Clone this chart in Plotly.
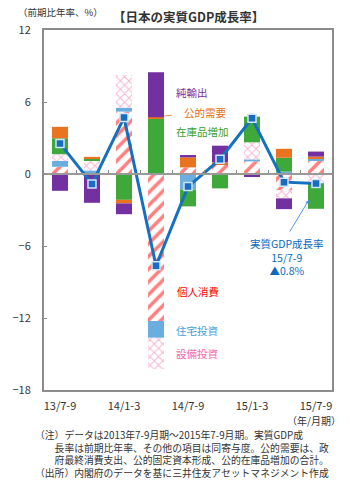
import plotly.graph_objects as go

# ---------------- data ----------------
categories = ["13/7-9", "13/10-12", "14/1-3", "14/4-6", "14/7-9",
              "14/10-12", "15/1-3", "15/4-6", "15/7-9"]
tick_labels = ["13/7-9", "", "14/1-3", "", "14/7-9", "", "15/1-3", "", "15/7-9"]

consumption = [0.60, 0.00, 5.20, -12.25, 0.55, 0.83, 1.05, -1.33, 1.08]   # 個人消費
housing     = [0.50, 0.30, 0.33, -1.40, -1.30, 0.00, 0.17, 0.20, 0.17]    # 住宅投資
capex       = [0.55, 0.78, 2.72, -2.60, 0.00, 0.00, 1.42, -0.70, -0.77]   # 設備投資
inventory   = [1.33, 0.22, -2.15, 4.60, -1.40, -1.20, 2.14, 1.15, -2.13]  # 在庫品増加
public      = [0.95, 0.13, -0.30, 0.13, 0.83, 0.14, 0.00, 0.75, 0.20]     # 公的需要
net_exports = [-1.40, -2.40, -0.90, 3.75, 0.20, 1.39, -0.25, -0.90, 0.42] # 純輸出
gdp         = [2.55, -0.83, 4.70, -7.65, -1.05, 1.22, 4.64, -0.68, -0.80] # 実質GDP成長率

y_ticks = [-18, -12, -6, 0, 6, 12]

FONT = "Noto Sans CJK JP"

# plot-area pixel frame (for placing text)
L, R, T, B = 33, 332, 30, 390
W, H = 350, 490


def P(px, py):
    return (px - L) / (R - L), (B - py) / (B - T)


fig = go.Figure()

RED = "#ff0000"
LBLUE = "#6aaee0"
PINK = "#f06aa8"
GREEN = "#3fa83a"
ORANGE = "#ea7320"
PURPLE = "#7430a0"
BLUE = "#1570c0"

fig.add_trace(go.Bar(x=categories, y=consumption, name="個人消費",
                     marker=dict(color="white", line=dict(width=0),
                                 pattern=dict(shape="/", fgcolor=RED, bgcolor="white",
                                              size=9, solidity=0.4, fillmode="overlay"))))
fig.add_trace(go.Bar(x=categories, y=housing, name="住宅投資",
                     marker=dict(color=LBLUE, line=dict(width=0))))
fig.add_trace(go.Bar(x=categories, y=capex, name="設備投資",
                     marker=dict(color="white", line=dict(width=0),
                                 pattern=dict(shape="x", fgcolor=PINK, bgcolor="white",
                                              size=6, solidity=0.3, fillmode="overlay"))))
fig.add_trace(go.Bar(x=categories, y=inventory, name="在庫品増加",
                     marker=dict(color=GREEN, line=dict(width=0))))
fig.add_trace(go.Bar(x=categories, y=public, name="公的需要",
                     marker=dict(color=ORANGE, line=dict(width=0))))
fig.add_trace(go.Bar(x=categories, y=net_exports, name="純輸出",
                     marker=dict(color=PURPLE, line=dict(width=0))))
fig.add_trace(go.Scatter(x=categories, y=gdp, name="実質GDP成長率", mode="lines+markers",
                         line=dict(color=BLUE, width=3),
                         marker=dict(symbol="square", size=8, color="#1a6cc0",
                                     line=dict(color="#d0e4f7", width=1.5))))
# dummy trace to carry the zero-line axis with boundary ticks
fig.add_trace(go.Scatter(x=categories, y=[None] * len(categories), xaxis="x2",
                         mode="lines", showlegend=False, hoverinfo="skip"))

annotations = []

# in-chart labels
labels = [
    ("純輸出", PURPLE, 168, 92),
    ("公的需要", "#e46c0a", 176, 113),
    ("在庫品増加", "#3a9e30", 168, 131),
    ("個人消費", RED, 169, 291),
    ("住宅投資", "#4a9fd5", 168, 330),
    ("設備投資", "#f06aa8", 168, 353),
]
for txt, col, px, py in labels:
    x, y = P(px, py)
    annotations.append(dict(text=txt, x=x, y=y, xref="paper", yref="paper",
                            xanchor="left", yanchor="middle", showarrow=False,
                            font=dict(family=FONT, size=10.5, color=col)))

# GDP callout (one multi-line text)
x, y = P(285, 257)
annotations.append(dict(text="実質GDP成長率<br>15/7-9<br>▲0.8%", x=x, y=y,
                        xref="paper", yref="paper", xanchor="center", yanchor="middle",
                        align="center", showarrow=False,
                        font=dict(family=FONT, size=10.5, color="#0a6ac0")))

# arrow to last bar
x, y = P(308, 200)
annotations.append(dict(text="", x=x, y=y, xref="paper", yref="paper",
                        ax=-20, ay=33, showarrow=True, arrowhead=2, arrowsize=0.8,
                        arrowwidth=0.9, arrowcolor="#3d8fd6"))
# orange leader line
x, y = P(158, 116)
annotations.append(dict(text="", x=x, y=y, xref="paper", yref="paper",
                        ax=9, ay=-1, showarrow=True, arrowhead=0,
                        arrowwidth=1, arrowcolor="#e88a40"))

# title & units
x, y = P(183, 17)
annotations.append(dict(text="<b>【日本の実質GDP成長率】</b>", x=x, y=y, xref="paper", yref="paper",
                        xanchor="center", yanchor="middle", showarrow=False,
                        font=dict(family=FONT, size=12.5, color="#333333")))
x, y = P(4, 12)
annotations.append(dict(text="（前期比年率、%）", x=x, y=y, xref="paper", yref="paper",
                        xanchor="left", yanchor="middle", showarrow=False,
                        font=dict(family=FONT, size=9.5, color="#333333")))
x, y = P(343, 420)
annotations.append(dict(text="（年/月期）", x=x, y=y, xref="paper", yref="paper",
                        xanchor="right", yanchor="middle", showarrow=False,
                        font=dict(family=FONT, size=10, color="#333333")))

# footnotes (one multi-line text block)
notes = [
    "（注）データは2013年7-9月期～2015年7-9月期。実質GDP成",
    "　　長率は前期比年率、その他の項目は同寄与度。公的需要は、政",
    "　　府最終消費支出、公的固定資本形成、公的在庫品増加の合計。",
    "（出所）内閣府のデータを基に三井住友アセットマネジメント作成",
]
x, y = P(22, 454)
annotations.append(dict(text="<br>".join(notes), x=x, y=y, xref="paper", yref="paper",
                        xanchor="left", yanchor="middle", align="left", showarrow=False,
                        font=dict(family=FONT, size=9.8, color="#333333")))

AX = "#8c8c8c"
fig.update_layout(
    width=W, height=H,
    margin=dict(l=L, r=W - R, t=T, b=H - B, pad=0),
    paper_bgcolor="white", plot_bgcolor="white",
    barmode="relative", bargap=0.5,
    showlegend=False,
    font=dict(family=FONT, size=11, color="#333333"),
    xaxis=dict(type="category", categoryorder="array", categoryarray=categories,
               range=[-0.5, len(categories) - 0.5],
               tickmode="array", tickvals=categories, ticktext=tick_labels,
               ticks="", showline=True, linecolor=AX, linewidth=2, mirror=True,
               showgrid=False, zeroline=False, ticklabelstandoff=5,
               tickfont=dict(family=FONT, size=11, color="#333333")),
    xaxis2=dict(type="category", categoryorder="array", categoryarray=categories,
                range=[-0.5, len(categories) - 0.5], overlaying="x",
                anchor="free", position=18 / 30, side="bottom",
                showline=True, linecolor="#999999", linewidth=1.5,
                ticks="inside", tickson="boundaries", ticklen=3, tickcolor="#888888",
                showticklabels=False, showgrid=False, zeroline=False),
    yaxis=dict(range=[-18, 12], tickmode="array", tickvals=y_ticks,
               ticktext=[str(v) if v >= 0 else "−" + str(-v) for v in y_ticks],
               ticks="inside", ticklen=3, tickcolor="#888888",
               showline=True, linecolor=AX, linewidth=2, mirror=True,
               showgrid=False, zeroline=False, ticklabelstandoff=9,
               tickfont=dict(family=FONT, size=11, color="#333333")),
    annotations=annotations,
)

fig.write_html("out.html")
